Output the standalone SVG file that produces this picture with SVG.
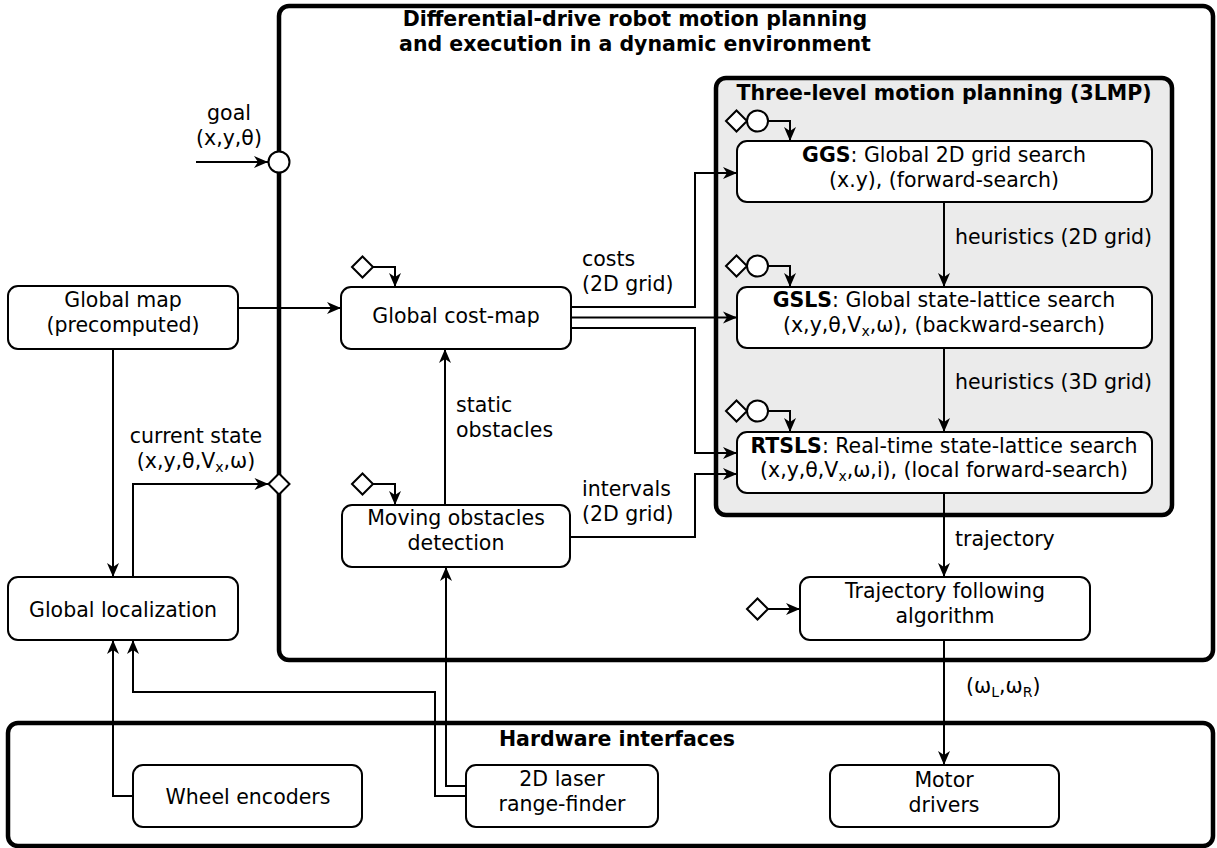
<svg xmlns="http://www.w3.org/2000/svg" width="1217" height="848" viewBox="0 0 1217 848">
  <style>
    .frame { fill: none; stroke: #000; stroke-width: 4.5; }
    .frame-grey { fill: #ebebeb; stroke: #000; stroke-width: 4.5; }
    .box { fill: #fff; stroke: #000; stroke-width: 2; }
    .port { fill: #fff; stroke: #000; stroke-width: 2; }
    .wire { fill: none; stroke: #000; stroke-width: 2; }
    text { font-family: "DejaVu Sans", "Liberation Sans", sans-serif; font-size: 20.5px; fill: #000; }
    .b { font-weight: bold; }
    .c { text-anchor: middle; }
  </style>
  <defs>
    <marker id="arrow" viewBox="-16 -8 17 16" refX="0" refY="0" markerWidth="17" markerHeight="16" markerUnits="userSpaceOnUse" orient="auto">
      <path d="M0,0 L-14,-6 L-10,0 L-14,6 Z" fill="#000"/>
    </marker>
  </defs>

  <!-- containers -->
  <g id="system">
    <rect class="frame" x="279" y="6" width="934" height="654" rx="10"/>
    <text class="b c" x="635" y="26" font-size="20.7">Differential-drive robot motion planning</text>
    <text class="b c" x="635" y="51" font-size="20.7">and execution in a dynamic environment</text>
  </g>
  <g id="planner-3lmp">
    <rect class="frame-grey" x="716" y="78" width="456" height="437" rx="10"/>
    <text class="b c" x="944" y="100">Three-level motion planning (3LMP)</text>
  </g>
  <g id="hardware">
    <rect class="frame" x="8" y="723" width="1205" height="123" rx="10"/>
    <text class="b c" x="617" y="746">Hardware interfaces</text>
  </g>

  <!-- nodes -->
  <g id="global-map">
    <rect class="box" x="8" y="286" width="230" height="63" rx="10"/>
    <text class="c" x="123" y="307">Global map</text>
    <text class="c" x="123" y="332">(precomputed)</text>
  </g>
  <g id="global-localization">
    <rect class="box" x="8" y="577" width="230" height="63" rx="10"/>
    <text class="c" x="123" y="617">Global localization</text>
  </g>
  <g id="global-cost-map">
    <rect class="box" x="341" y="287" width="230" height="62" rx="10"/>
    <text class="c" x="456" y="323">Global cost-map</text>
  </g>
  <g id="moving-obstacles">
    <rect class="box" x="342" y="505" width="228" height="62" rx="10"/>
    <text class="c" x="456" y="525">Moving obstacles</text>
    <text class="c" x="456" y="550">detection</text>
  </g>
  <g id="ggs">
    <rect class="box" x="737" y="141" width="415" height="61" rx="10"/>
    <text class="c" x="944" y="162"><tspan class="b">GGS</tspan>: Global 2D grid search</text>
    <text class="c" x="944" y="187">(x.y), (forward-search)</text>
  </g>
  <g id="gsls">
    <rect class="box" x="737" y="287" width="415" height="61" rx="10"/>
    <text class="c" x="944" y="307"><tspan class="b">GSLS</tspan>: Global state-lattice search</text>
    <text class="c" x="944" y="332">(x,y,θ,V<tspan font-size="14" dy="4">x</tspan><tspan dy="-4">,ω), (backward-search)</tspan></text>
  </g>
  <g id="rtsls">
    <rect class="box" x="737" y="432" width="415" height="61" rx="10"/>
    <text class="c" x="944" y="453"><tspan class="b">RTSLS</tspan>: Real-time state-lattice search</text>
    <text class="c" x="944" y="477">(x,y,θ,V<tspan font-size="14" dy="4">x</tspan><tspan dy="-4">,ω,i), (local forward-search)</tspan></text>
  </g>
  <g id="trajectory-following">
    <rect class="box" x="800" y="577" width="290" height="63" rx="10"/>
    <text class="c" x="945" y="598">Trajectory following</text>
    <text class="c" x="945" y="623">algorithm</text>
  </g>
  <g id="wheel-encoders">
    <rect class="box" x="133" y="765" width="229" height="62" rx="10"/>
    <text class="c" x="248" y="804">Wheel encoders</text>
  </g>
  <g id="laser-range-finder">
    <rect class="box" x="466" y="765" width="192" height="62" rx="10"/>
    <text class="c" x="562" y="786">2D laser</text>
    <text class="c" x="562" y="811">range-finder</text>
  </g>
  <g id="motor-drivers">
    <rect class="box" x="830" y="765" width="229" height="62" rx="10"/>
    <text class="c" x="944" y="787">Motor</text>
    <text class="c" x="944" y="812">drivers</text>
  </g>

  <!-- connectors -->
  <g id="connectors">
    <path class="wire" marker-end="url(#arrow)" d="M196,162 H268"/>
    <path class="wire" marker-end="url(#arrow)" d="M133,577 V484 H268.5"/>
    <path class="wire" marker-end="url(#arrow)" d="M238,308 H341"/>
    <path class="wire" marker-end="url(#arrow)" d="M113,349 V577"/>
    <path class="wire" marker-end="url(#arrow)" d="M571,307 H695 V173 H737"/>
    <path class="wire" marker-end="url(#arrow)" d="M571,317.5 H737"/>
    <path class="wire" marker-end="url(#arrow)" d="M571,328 H695 V453 H737"/>
    <path class="wire" marker-end="url(#arrow)" d="M570,537 H695 V474 H737"/>
    <path class="wire" marker-end="url(#arrow)" d="M445,505 V349"/>
    <path class="wire" marker-end="url(#arrow)" d="M373,267 H395 V287"/>
    <path class="wire" marker-end="url(#arrow)" d="M373,484 H395 V505"/>
    <path class="wire" marker-end="url(#arrow)" d="M768,121 H790 V141"/>
    <path class="wire" marker-end="url(#arrow)" d="M768,266 H790 V287"/>
    <path class="wire" marker-end="url(#arrow)" d="M768,411 H790 V432"/>
    <path class="wire" marker-end="url(#arrow)" d="M944,202 V287"/>
    <path class="wire" marker-end="url(#arrow)" d="M944,348 V432"/>
    <path class="wire" marker-end="url(#arrow)" d="M944,493 V577"/>
    <path class="wire" marker-end="url(#arrow)" d="M768,609 H800"/>
    <path class="wire" marker-end="url(#arrow)" d="M944,640 V765"/>
    <path class="wire" marker-end="url(#arrow)" d="M133,796 H113 V640"/>
    <path class="wire" marker-end="url(#arrow)" d="M466,796 H435 V692 H133 V640"/>
    <path class="wire" marker-end="url(#arrow)" d="M466,786 H446 V567"/>

    <!-- connector labels -->
    <text class="c" x="229" y="120">goal</text>
    <text class="c" x="229" y="145">(x,y,θ)</text>
    <text class="c" x="196" y="443">current state</text>
    <text class="c" x="196" y="468">(x,y,θ,V<tspan font-size="14" dy="4">x</tspan><tspan dy="-4">,ω)</tspan></text>
    <text x="582" y="266">costs</text>
    <text x="582" y="291">(2D grid)</text>
    <text x="582" y="496">intervals</text>
    <text x="582" y="521">(2D grid)</text>
    <text x="456" y="412">static</text>
    <text x="456" y="437">obstacles</text>
    <text x="955" y="244">heuristics (2D grid)</text>
    <text x="955" y="389">heuristics (3D grid)</text>
    <text x="955" y="546">trajectory</text>
    <text x="966" y="693">(ω<tspan font-size="14" dy="4">L</tspan><tspan dy="-4">,ω</tspan><tspan font-size="14" dy="4">R</tspan><tspan dy="-4">)</tspan></text>
  </g>

  <!-- ports: diamonds (inputs) and circles (goal inputs) -->
  <g id="ports">
    <circle class="port" cx="279" cy="162" r="10.5"/>
    <path class="port" d="M268.5,484 L279,473.5 L289.5,484 L279,494.5 Z"/>
    <path class="port" d="M352,267 L362.5,256.5 L373,267 L362.5,277.5 Z"/>
    <path class="port" d="M352,484 L362.5,473.5 L373,484 L362.5,494.5 Z"/>
    <path class="port" d="M726,121 L736.5,110.5 L747,121 L736.5,131.5 Z"/>
    <circle class="port" cx="757.5" cy="121" r="10.5"/>
    <path class="port" d="M726,266 L736.5,255.5 L747,266 L736.5,276.5 Z"/>
    <circle class="port" cx="757.5" cy="266" r="10.5"/>
    <path class="port" d="M726,411 L736.5,400.5 L747,411 L736.5,421.5 Z"/>
    <circle class="port" cx="757.5" cy="411" r="10.5"/>
    <path class="port" d="M747,609 L757.5,598.5 L768,609 L757.5,619.5 Z"/>
  </g>
</svg>
